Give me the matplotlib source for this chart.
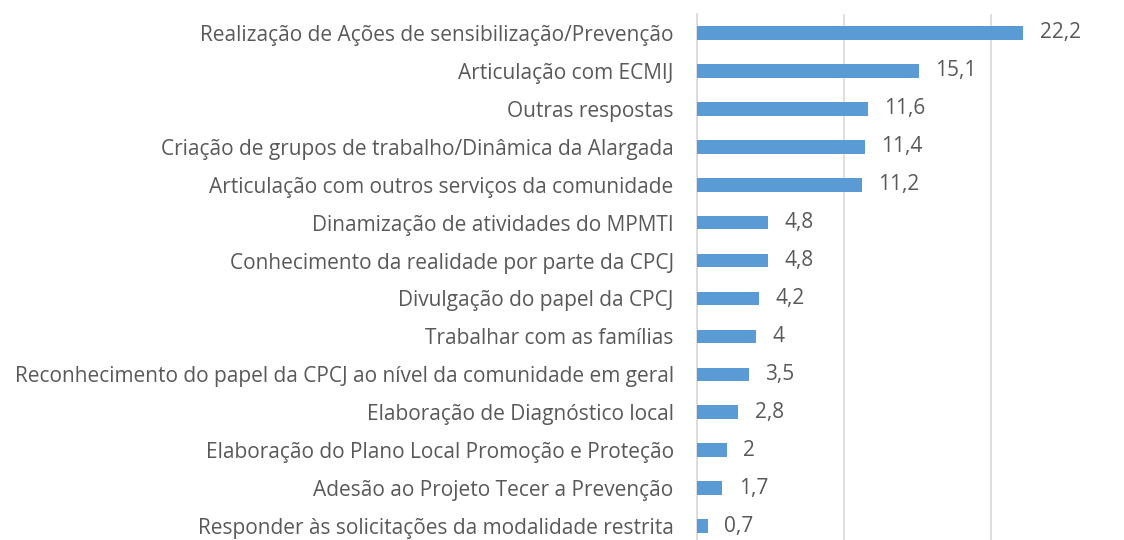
import matplotlib
matplotlib.use("Agg")
import matplotlib.pyplot as plt

# categorias (de cima para baixo) e valores em %
categorias = [
    "Realização de Ações de sensibilização/Prevenção",
    "Articulação com ECMIJ",
    "Outras respostas",
    "Criação de grupos de trabalho/Dinâmica da Alargada",
    "Articulação com outros serviços da comunidade",
    "Dinamização de atividades do MPMTI",
    "Conhecimento da realidade por parte da CPCJ",
    "Divulgação do papel da CPCJ",
    "Trabalhar com as famílias",
    "Reconhecimento do papel da CPCJ ao nível da comunidade em geral",
    "Elaboração de Diagnóstico local",
    "Elaboração do Plano Local Promoção e Proteção",
    "Adesão ao Projeto Tecer a Prevenção",
    "Responder às solicitações da modalidade restrita",
]
valores = [22.2, 15.1, 11.6, 11.4, 11.2, 4.8, 4.8, 4.2, 4, 3.5, 2.8, 2, 1.7, 0.7]
rotulos = ["22,2", "15,1", "11,6", "11,4", "11,2", "4,8", "4,8", "4,2", "4",
           "3,5", "2,8", "2", "1,7", "0,7"]

plt.rcParams["font.family"] = ["Open Sans", "DejaVu Sans"]
cor_texto = "#595959"

fig = plt.figure(figsize=(11.24, 5.40), dpi=100)
ax = fig.add_axes([0.6204, -0.00926, 0.3263, 0.9833])

n = len(categorias)
pos = list(range(n - 1, -1, -1))  # primeira categoria no topo
ax.barh(pos, valores, height=0.36, color="#5B9BD5", zorder=3)

for p, v, r in zip(pos, valores, rotulos):
    ax.annotate(r, (v, p), xytext=(12, 0), textcoords="offset points",
                va="center", ha="left", fontsize=15, color=cor_texto)

ax.set_xlim(0, 25)
ax.set_ylim(-0.5, 13.5)
ax.set_xticks([0, 10, 20])
ax.xaxis.grid(True, color="#D9D9D9", linewidth=1.2, zorder=0)
ax.tick_params(axis="x", length=0, labelbottom=False)
ax.set_yticks(pos)
ax.set_yticklabels(categorias, fontsize=15, color=cor_texto)
ax.tick_params(axis="y", length=0, pad=17)
for s in ["top", "right", "bottom"]:
    ax.spines[s].set_visible(False)
ax.spines["left"].set_color("#D9D9D9")
ax.spines["left"].set_linewidth(1.2)

fig.savefig("out.png", dpi=100)
